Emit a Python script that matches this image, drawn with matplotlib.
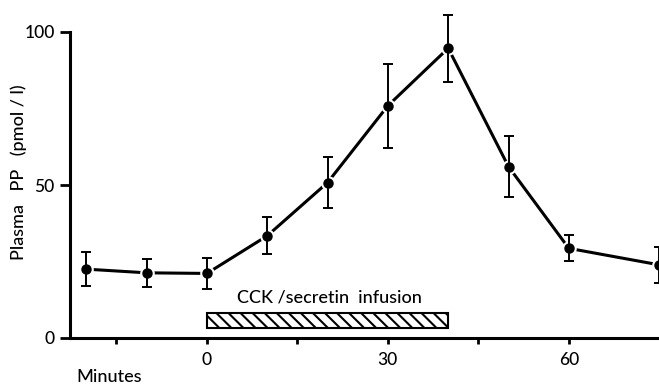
import matplotlib
matplotlib.use("Agg")
import matplotlib.pyplot as plt
from matplotlib.patches import Rectangle
import numpy as np

# Plasma PP (pmol/l) during CCK/secretin infusion
minutes = [-20, -10, 0, 10, 20, 30, 40, 50, 60, 75]
pp_mean = [22.5, 21.3, 21.1, 33.4, 50.8, 75.9, 94.7, 56.0, 29.3, 23.9]
pp_sem = [5.6, 4.6, 5.0, 6.0, 8.3, 13.8, 11.0, 10.0, 4.2, 5.8]

infusion_start, infusion_end = 0, 40
infusion_label = "CCK /secretin  infusion"

x_ticks = [-15, 0, 15, 30, 45, 60]
x_ticklabels = ["", "0", "", "30", "", "60"]
y_ticks = [0, 50, 100]

plt.rcParams["font.family"] = ["Lato", "DejaVu Sans"]
plt.rcParams["font.weight"] = "medium"

fig = plt.figure(figsize=(6.59, 3.84), dpi=100)
ax = fig.add_axes([70 / 659, 46 / 384, 589 / 659, 306 / 384])

ax.set_xlim(-22.7, 74.95)
ax.set_ylim(0, 100)

# connecting line, with small white rings around the points
ax.plot(minutes, pp_mean, color="black", lw=2.2, zorder=1, clip_on=False)
ax.plot(minutes, pp_mean, ls="none", marker="o", ms=9.5, mfc="white",
        mec="white", zorder=2, clip_on=False)
ax.errorbar(minutes, pp_mean, yerr=pp_sem, fmt="none", ecolor="black",
            elinewidth=1.4, capsize=3.5, capthick=1.4, zorder=3, clip_on=False)
ax.plot(minutes, pp_mean, ls="none", marker="o", ms=6.5, mfc="black",
        mec="black", zorder=4, clip_on=False)

# hatched bar marking the infusion period
bar_lo, bar_hi = 3.4, 8.1
rect = Rectangle((infusion_start, bar_lo), infusion_end - infusion_start,
                 bar_hi - bar_lo, facecolor="white", edgecolor="black",
                 lw=1.5, zorder=5)
ax.add_patch(rect)
step = 2.0
slant = 2.4
for xs in np.arange(infusion_start - slant, infusion_end + step, step):
    ln, = ax.plot([xs, xs + slant], [bar_hi, bar_lo], color="black",
                  lw=1.5, zorder=5, solid_capstyle="butt")
    ln.set_clip_path(rect)
ax.text((infusion_start + infusion_end) / 2 + 0.3, 13.2, infusion_label,
        ha="center", va="center", fontsize=13)

for s in ["top", "right"]:
    ax.spines[s].set_visible(False)
for s in ["left", "bottom"]:
    ax.spines[s].set_linewidth(2.2)

ax.set_yticks(y_ticks)
ax.set_yticklabels([str(v) for v in y_ticks], fontsize=12.5)
ax.set_xticks(x_ticks)
ax.set_xticklabels(x_ticklabels, fontsize=12.5)
ax.tick_params(axis="y", direction="out", length=7, width=2, pad=4)
ax.tick_params(axis="x", direction="out", length=4, width=2, pad=6)

fig.text(19 / 659, 1 - 260 / 384, "Plasma   PP   (pmol / l)",
         rotation=90, ha="center", va="bottom", fontsize=13)
fig.text(76 / 659, 1 - 377 / 384, "Minutes", ha="left", va="center",
         fontsize=13)

fig.savefig("out.png", dpi=100)
